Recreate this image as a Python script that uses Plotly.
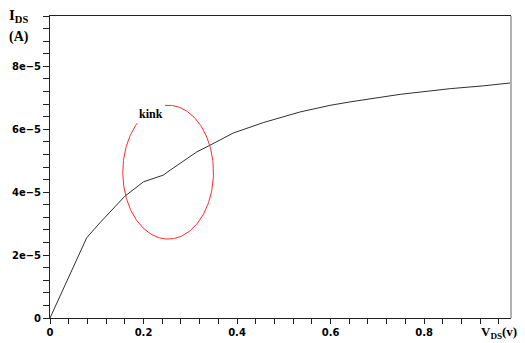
import numpy as np
import plotly.graph_objects as go

# ---- data ----
vds = [0.0, 0.0785, 0.107, 0.160, 0.200, 0.242, 0.257, 0.314, 0.342, 0.392,
       0.456, 0.535, 0.599, 0.642, 0.749, 0.856, 0.927, 0.984]
ids = [0.0, 2.55e-5, 3.03e-5, 3.87e-5, 4.33e-5, 4.54e-5, 4.70e-5, 5.28e-5,
       5.49e-5, 5.88e-5, 6.21e-5, 6.55e-5, 6.76e-5, 6.87e-5, 7.11e-5,
       7.29e-5, 7.38e-5, 7.47e-5]

y_tickvals = [0, 2e-5, 4e-5, 6e-5, 8e-5]
y_ticktext = ["0", "2e\u22125", "4e\u22125", "6e\u22125", "8e\u22125"]
x_tickvals = [0, 0.2, 0.4, 0.6, 0.8]
x_ticktext = ["0", "0.2", "0.4", "0.6", "0.8"]

# kink highlight ellipse (center, semi-axes, open gap in degrees)
kink_center = (0.2527, 4.636e-5)
kink_semi = (0.097, 2.127e-5)
kink_gap = (94, 133)
kink_label = "kink"
kink_label_pos = (0.216, 6.48e-5)

# ---- figure ----
fig = go.Figure()
fig.add_trace(go.Scatter(x=vds, y=ids, mode="lines",
                         line=dict(color="#303030", width=1),
                         hoverinfo="skip", showlegend=False))

ang = np.radians(np.linspace(kink_gap[0], kink_gap[1] - 360, 200))
ex = kink_center[0] + kink_semi[0] * np.cos(ang)
ey = kink_center[1] + kink_semi[1] * np.sin(ang)
fig.add_trace(go.Scatter(x=ex, y=ey, mode="lines",
                         line=dict(color="#ff2a2a", width=1),
                         hoverinfo="skip", showlegend=False))

tickfont = dict(family="DejaVu Sans", size=10, color="black", weight="bold")
# page body has an 8px margin, so the figure is sized to fill the rest
fig.update_layout(
    width=517, height=335,
    margin=dict(l=42, r=14, t=8, b=25),
    plot_bgcolor="white", paper_bgcolor="white",
    showlegend=False,
    xaxis=dict(range=[0, 0.986], tickvals=x_tickvals, ticktext=x_ticktext,
               automargin=False,
               ticks="outside", ticklen=5, tickwidth=1, tickcolor="#222",
               minor=dict(dtick=0.04, tick0=0, ticks="outside", ticklen=5,
                          tickcolor="#222", showgrid=False),
               showline=True, linecolor="#222", linewidth=1, mirror=True,
               showgrid=False, zeroline=False, tickfont=tickfont),
    yaxis=dict(range=[0, 9.6e-5], tickvals=y_tickvals, ticktext=y_ticktext,
               automargin=False,
               ticks="outside", ticklen=6, tickwidth=1, tickcolor="#222",
               minor=dict(dtick=0.4e-5, tick0=0, ticks="outside", ticklen=6,
                          tickcolor="#222", showgrid=False),
               showline=True, linecolor="#222", linewidth=1, mirror=False,
               showgrid=False, zeroline=False, tickfont=tickfont),
)

fig.add_shape(type="line", xref="paper", yref="paper", x0=1, x1=1, y0=0, y1=1,
              line=dict(color="#999999", width=1.5))

serif = "Liberation Serif"
fig.add_annotation(text="<b>I<sub>DS</sub></b>", xref="paper", yref="paper",
                   x=-0.093, y=1.035, xanchor="left", yanchor="top",
                   showarrow=False, font=dict(family=serif, size=15, color="black"))
fig.add_annotation(text="<b>(A)</b>", xref="paper", yref="paper",
                   x=-0.093, y=0.965, xanchor="left", yanchor="top",
                   showarrow=False, font=dict(family=serif, size=14, color="black"))
fig.add_annotation(text="<b>V<sub>DS</sub>(v)</b>", xref="paper", yref="paper",
                   x=0.930, y=-0.012, xanchor="left", yanchor="top",
                   showarrow=False, font=dict(family=serif, size=13, color="black"))
fig.add_annotation(text="<b>" + kink_label + "</b>", x=kink_label_pos[0], y=kink_label_pos[1],
                   xanchor="center", yanchor="middle", showarrow=False,
                   font=dict(family=serif, size=12, color="black"))

fig.write_html("out.html")
